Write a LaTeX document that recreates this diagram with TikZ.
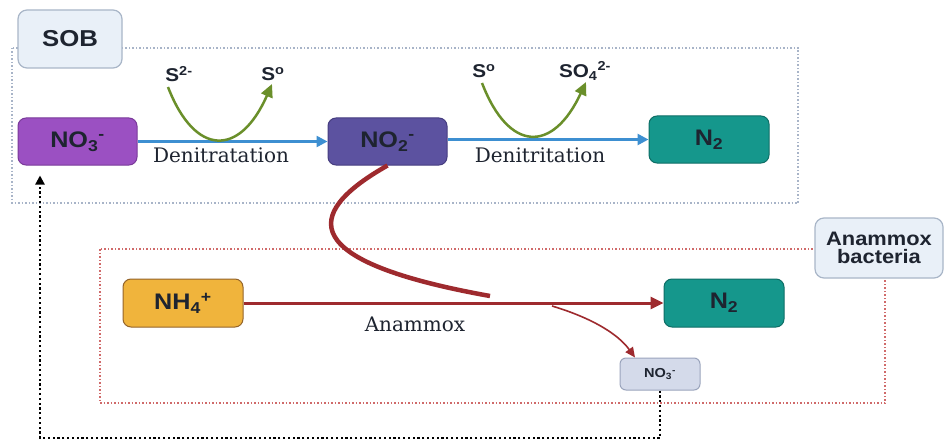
\documentclass[tikz,border=0pt]{standalone}
\usepackage{fontspec}
\setmainfont{DejaVu Serif}
\newfontfamily\bsans[FakeStretch=1.12]{Liberation Sans}
\usetikzlibrary{arrows.meta}
\definecolor{framebl}{HTML}{A8B4C8}
\definecolor{framerd}{HTML}{D06A6A}
\definecolor{lightbox}{HTML}{E9F0F8}
\definecolor{lightedge}{HTML}{A9B6C8}
\definecolor{purp}{HTML}{9B50C2}
\definecolor{purpedge}{HTML}{7A3A9A}
\definecolor{slate}{HTML}{5C52A0}
\definecolor{slateedge}{HTML}{463D80}
\definecolor{teal}{HTML}{15978C}
\definecolor{tealedge}{HTML}{0E6E66}
\definecolor{orng}{HTML}{F0B43C}
\definecolor{orngedge}{HTML}{94642A}
\definecolor{smallbox}{HTML}{D4DAEA}
\definecolor{smalledge}{HTML}{9AA4BC}
\definecolor{arrblue}{HTML}{3D8FD1}
\definecolor{arrgreen}{HTML}{6A8F2A}
\definecolor{arrred}{HTML}{9E2A2E}
\definecolor{txt}{HTML}{1E2430}
\tikzset{
  boxn/.style={rounded corners=8pt, draw, line width=1pt, minimum width=119pt, minimum height=47pt, inner sep=0pt,
    font=\bsans\bfseries\fontsize{22.5}{26}\selectfont, text=txt},
  tagbox/.style={rounded corners=9pt, draw=lightedge, fill=lightbox, line width=1.2pt, inner sep=0pt, align=center,
    font=\bsans\bfseries\fontsize{19.5}{21}\selectfont, text=txt},
  chem/.style={font=\bsans\bfseries\fontsize{18.5}{20}\selectfont, text=txt, inner sep=1pt},
  proc/.style={font=\fontsize{20}{22}\selectfont, text=txt, inner sep=1pt},
  framebox/.style={line width=1.3pt, dash pattern=on 1.5pt off 2pt},
  bluearr/.style={draw=arrblue, line width=2.5pt, -{Triangle[length=11pt,width=11pt]}},
  greenarr/.style={draw=arrgreen, line width=2.5pt, -{Triangle[length=13pt,width=12pt]}},
  redarr/.style={draw=arrred, line width=3pt, -{Triangle[length=13pt,width=12pt]}},
  loopback/.style={draw=black, line width=2.2pt, dash pattern=on 2.2pt off 2.6pt, -{Triangle[length=9pt,width=9pt]}}
}
\begin{document}
\begin{tikzpicture}[x=1pt,y=-1pt]
\useasboundingbox[fill=white] (0,0) rectangle (944,441);
% frames
\draw[framebox, draw=framebl] (12,48) rectangle (798,203);
\draw[framebox, draw=framerd] (100,249) rectangle (885,403);
% tag boxes
\node[tagbox, minimum width=104pt, minimum height=58pt, font=\bsans\bfseries\fontsize{23}{26}\selectfont] (sob) at (70,39) {SOB};
\node[tagbox, minimum width=128pt, minimum height=60pt] (anb) at (879,248) {Anammox\\[-3pt]bacteria};
% species boxes
\node[boxn, fill=purp, draw=purpedge] (no3) at (77.5,141.5) {NO\textsubscript{3}\textsuperscript{-}};
\node[boxn, fill=slate, draw=slateedge] (no2) at (387.5,141.5) {NO\textsubscript{2}\textsuperscript{-}};
\node[boxn, fill=teal, draw=tealedge, minimum width=120pt] (n2a) at (709,139.5) {N\textsubscript{2}};
\node[boxn, fill=orng, draw=orngedge, minimum width=120pt, minimum height=48pt] (nh4) at (183,303) {NH\textsubscript{4}\textsuperscript{+}};
\node[boxn, fill=teal, draw=tealedge, minimum width=120pt, minimum height=48pt] (n2b) at (724,303) {N\textsubscript{2}};
\node[boxn, fill=smallbox, draw=smalledge, minimum width=80pt, minimum height=32pt, rounded corners=6pt,
  font=\bsans\bfseries\fontsize{13}{15}\selectfont] (no3s) at (660,374) {NO\textsubscript{3}\textsuperscript{-}};
% sulfur labels
\node[chem] (s2) at (179,74) {S\textsuperscript{2-}};
\node[chem] (s0a) at (273,74) {S\textsuperscript{o}};
\node[chem] (s0b) at (484,71) {S\textsuperscript{o}};
\node[chem] (so4) at (585,71) {SO\textsubscript{4}\textsuperscript{2-}};
% process labels
\node[proc] (dnra) at (221,155) {Denitratation};
\node[proc] (dnri) at (540,155) {Denitritation};
\node[proc] (anlab) at (415,324) {Anammox};
% blue arrows
\draw[bluearr] (no3.east) -- (no2.west);
\draw[bluearr] (no2.east |- n2a.west) -- (n2a.west);
% green curves
\coordinate (g1s) at (168,87);
\coordinate (g1e) at (272,84);
\coordinate (g2s) at (482,83);
\coordinate (g2e) at (586,82);
\draw[greenarr] (g1s) .. controls (195,157) and (240,157) .. (g1e);
\draw[greenarr] (g2s) .. controls (509,153) and (553,153) .. (g2e);
% anammox arrows
\draw[redarr] (nh4.east) -- (n2b.west);
\coordinate (join) at (490,296);
\draw[draw=arrred, line width=4.5pt] (no2.south) .. controls (300,215) and (300,262) .. (join);
\coordinate (split) at (552,306);
\draw[draw=arrred, line width=1.6pt, -{Triangle[length=10pt,width=9pt]}] (split) .. controls (592,318) and (618,334) .. ([xshift=-25pt]no3s.north);
% loop back
\coordinate (corner) at (40,438);
\draw[loopback, shorten >=10pt] (no3s.south) -- (no3s.south |- corner) -- (corner) -- (corner |- no3.south);
\end{tikzpicture}
\end{document}
